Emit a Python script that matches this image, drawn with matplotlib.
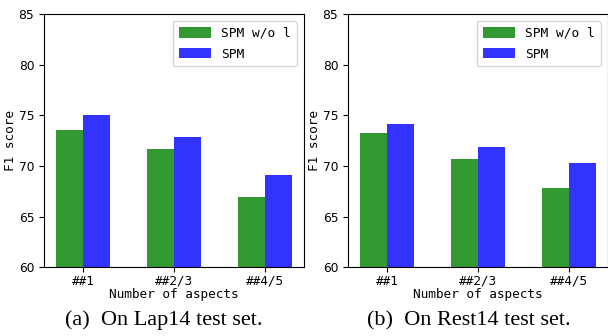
import matplotlib
matplotlib.use("Agg")
import matplotlib.pyplot as plt
import numpy as np

categories = ["##1", "##2/3", "##4/5"]
lap_wo = [73.55, 71.68, 66.94]
lap_spm = [75.03, 72.86, 69.11]
rest_wo = [73.26, 70.69, 67.83]
rest_spm = [74.14, 71.88, 70.30]
series_labels = ["SPM w/o l", "SPM"]
captions = ["(a)  On Lap14 test set.", "(b)  On Rest14 test set."]
yticks = [60, 65, 70, 75, 80, 85]

W, H = 608, 336
fig = plt.figure(figsize=(W / 100, H / 100), dpi=100)

mono = "DejaVu Sans Mono"
green = "#339933"
blue = "#3333ff"

panels = [(lap_wo, lap_spm), (rest_wo, rest_spm)]
lefts = [44, 348]
cap_x = [164, 469]
for i, (wo, spm) in enumerate(panels):
    ax = fig.add_axes([lefts[i] / W, (H - 267.3) / H, 260 / W, 253.3 / H])
    x = np.arange(len(categories))
    w = 0.3
    ax.bar(x - w / 2, wo, w, color=green, label=series_labels[0])
    ax.bar(x + w / 2, spm, w, color=blue, label=series_labels[1])
    ax.set_ylim(60, 85)
    ax.set_yticks(yticks)
    ax.tick_params(axis="y", labelsize=8.8)
    ax.tick_params(axis="x", pad=2)
    ax.set_xticks(x)
    ax.set_xticklabels(categories, fontfamily=mono, fontsize=9.2)
    ax.set_xlabel("Number of aspects", fontfamily=mono, fontsize=9.2, labelpad=0)
    ax.set_ylabel("F1 score", fontfamily=mono, fontsize=9.2, labelpad=1)
    ax.legend(loc="upper right", prop={"family": mono, "size": 9.3},
              handlelength=2.5, handleheight=0.85, labelspacing=0.6,
              handletextpad=0.8, borderaxespad=0.55, borderpad=0.45)
    fig.text(cap_x[i] / W, 1 - 320.5 / H, captions[i], ha="center", va="center",
             fontfamily="Liberation Serif", fontsize=16)

fig.savefig("out.png", dpi=100)
